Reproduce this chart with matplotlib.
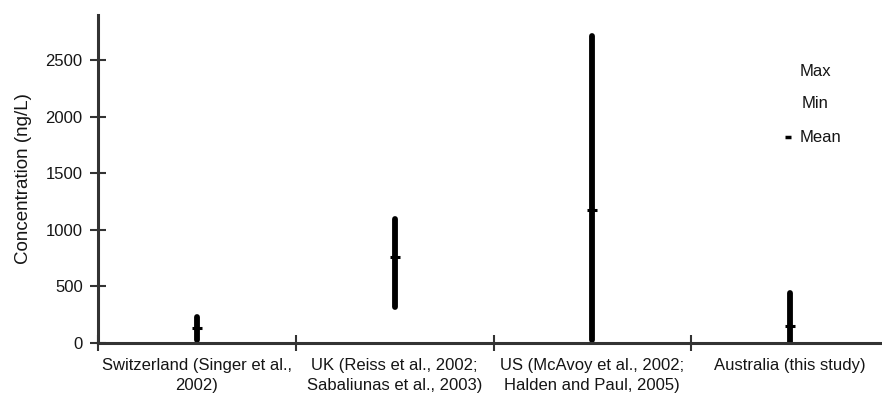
import matplotlib
matplotlib.use('Agg')
import matplotlib.pyplot as plt
import numpy as np

# data
sites = ["Switzerland (Singer et al.,\n2002)",
         "UK (Reiss et al., 2002;\nSabaliunas et al., 2003)",
         "US (McAvoy et al., 2002;\nHalden and Paul, 2005)",
         "Australia (this study)"]
conc_max = [230, 1100, 2710, 440]
conc_min = [25, 320, 30, 5]
conc_mean = [130, 760, 1180, 150]
y_ticks = [0, 500, 1000, 1500, 2000, 2500]

plt.rcParams['font.family'] = ['Liberation Sans', 'DejaVu Sans']
txt = '#151515'

fig = plt.figure(figsize=(8.82, 3.96), dpi=100)
ax = fig.add_axes([98 / 882, 1 - 343 / 396, 791 / 882, 328 / 396])

x = np.arange(len(sites)) + 0.5

# min-max range bars
ax.vlines(x, conc_min, conc_max, colors='black', linewidth=4.2,
          capstyle='round')
# mean markers
ax.plot(x, conc_mean, linestyle='none', marker='_', markersize=6.5,
        markeredgewidth=2.2, color='black')

ax.set_xlim(0, len(sites))
ax.set_ylim(0, 2900)

ax.set_xticks(np.arange(len(sites) + 1))
ax.set_xticklabels([])
ax.set_xticks(x, minor=True)
ax.set_xticklabels(sites, minor=True, fontsize=12, color=txt,
                   linespacing=1.4)
ax.tick_params(axis='x', which='minor', length=0, pad=11)
ax.tick_params(axis='x', which='major', direction='inout', length=12,
               width=1.5, color='#333333')

ax.set_yticks(y_ticks)
ax.tick_params(axis='y', direction='inout', length=12, width=1.5,
               color='#333333', labelsize=12, labelcolor=txt, pad=5)
ax.set_ylabel("Concentration (ng/L)", fontsize=13.5, color=txt,
              labelpad=10)

for side in ['top', 'right']:
    ax.spines[side].set_visible(False)
for side in ['left', 'bottom']:
    ax.spines[side].set_linewidth(2.2)
    ax.spines[side].set_color('#333333')

# legend-like key (positions in axes fraction)
tr = ax.transAxes
lx = (800 - 98) / 791
ax.text(lx, (343 - 72) / 328, "Max", transform=tr, fontsize=12,
        color=txt, va='center', ha='left')
ax.text(lx + 2 / 791, (343 - 104) / 328, "Min", transform=tr, fontsize=12,
        color=txt, va='center', ha='left')
ax.text(lx, (343 - 137) / 328, "Mean", transform=tr, fontsize=12,
        color=txt, va='center', ha='left')
ax.plot([(788 - 98) / 791], [(343 - 137) / 328], transform=tr,
        marker='_', markersize=5, markeredgewidth=2.5, color='black',
        clip_on=False)

fig.savefig('out.png', dpi=100)
